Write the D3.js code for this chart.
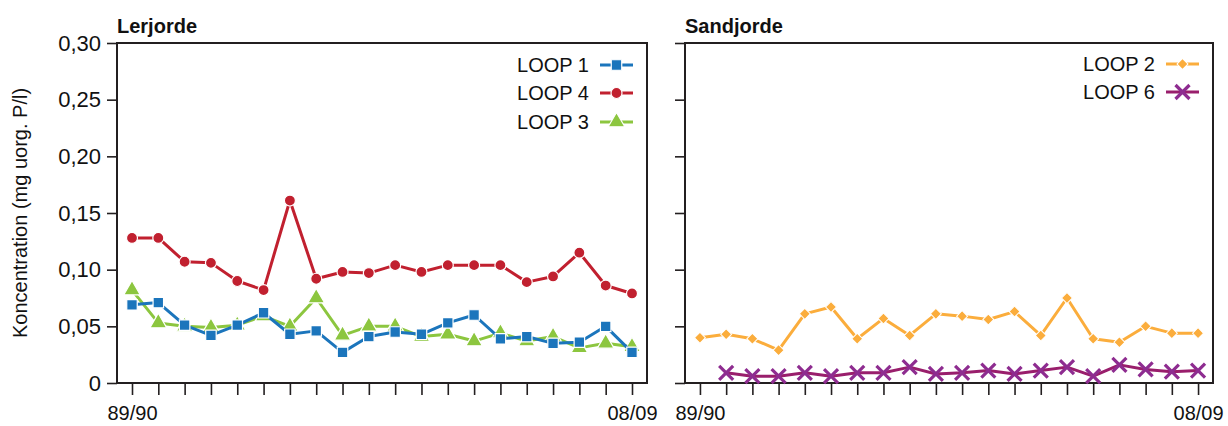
<!DOCTYPE html>
<html>
<head>
<meta charset="utf-8">
<script src="https://cdn.jsdelivr.net/npm/d3@7"></script>
<style>
  html, body { margin: 0; padding: 0; background: #fff; }
  svg { display: block; font-family: "Liberation Sans", Arial, Helvetica, sans-serif; }
</style>
</head>
<body>
<svg id="chart" width="1228" height="426"></svg>
<script>
// Seasons on the x axis (only the first and last are labelled)
const seasons = ["89/90","90/91","91/92","92/93","93/94","94/95","95/96","96/97","97/98","98/99",
                 "99/00","00/01","01/02","02/03","03/04","04/05","05/06","06/07","07/08","08/09"];
const xTickLabels = ["89/90", "08/09"];
const yTicks = [0, 0.05, 0.10, 0.15, 0.20, 0.25, 0.30];

// Lerjorde (clay soil) series
const loop1 = [0.069,0.071,0.051,0.042,0.051,0.062,0.043,0.046,0.027,0.041,0.045,0.043,0.053,0.060,0.039,0.041,0.035,0.036,0.050,0.027];
const loop4 = [0.128,0.128,0.107,0.106,0.090,0.082,0.161,0.092,0.098,0.097,0.104,0.098,0.104,0.104,0.104,0.089,0.094,0.115,0.086,0.079];
const loop3 = [0.082,0.053,0.050,0.049,0.051,0.059,0.050,0.075,0.042,0.050,0.050,0.041,0.043,0.037,0.044,0.037,0.041,0.031,0.035,0.032];

// Sandjorde (sandy soil) series
const loop2 = [0.040,0.043,0.039,0.029,0.061,0.067,0.039,0.057,0.042,0.061,0.059,0.056,0.063,0.042,0.075,0.039,0.036,0.050,0.044,0.044];
const loop6 = [null,0.009,0.006,0.006,0.009,0.006,0.009,0.009,0.014,0.008,0.009,0.011,0.008,0.011,0.014,0.006,0.016,0.012,0.010,0.011];

const yTitle = "Koncentration (mg uorg. P/l)";

const panels = [
  { title: "Lerjorde", left: 117, right: 647, showLabels: true,
    series: [
      { name: "LOOP 3", values: loop3, color: "#8cc63f", line: "#8cc63f", symbol: "triangle" },
      { name: "LOOP 1", values: loop1, color: "#1b75bc", line: "#1b75bc", symbol: "square" },
      { name: "LOOP 4", values: loop4, color: "#c1202f", line: "#c1202f", symbol: "circle" }
    ],
    legend: ["LOOP 1", "LOOP 4", "LOOP 3"] },
  { title: "Sandjorde", left: 685, right: 1213, showLabels: false,
    series: [
      { name: "LOOP 2", values: loop2, color: "#fbad3c", line: "#fbad3c", symbol: "diamond" },
      { name: "LOOP 6", values: loop6, color: "#8e2c90", line: "#991e6c", symbol: "x" }
    ],
    legend: ["LOOP 2", "LOOP 6"] }
];

const plotTop = 43, plotBottom = 383;
const svg = d3.select("#chart");
const fmt = d => d === 0 ? "0" : d3.format(".2f")(d).replace(".", ",");

const y = d3.scaleLinear().domain([0, 0.30]).range([plotBottom, plotTop]);

function drawMarker(g, type, color) {
  if (type === "x") {
    const s = 7;
    g.append("path")
      .attr("d", `M${-s},${-s}L${s},${s}M${-s},${s}L${s},${-s}`)
      .attr("stroke", color).attr("stroke-width", 3.2).attr("fill", "none")
      .attr("stroke-linecap", "butt");
    return;
  }
  if (type === "diamond") {
    g.append("path")
      .attr("d", d3.symbol(d3.symbolSquare, 60)())
      .attr("transform", "rotate(45)")
      .attr("fill", color).attr("stroke", "#fff").attr("stroke-width", 1);
    return;
  }
  const sym = { square: d3.symbolSquare, circle: d3.symbolCircle, triangle: d3.symbolTriangle }[type];
  const size = { square: 110, circle: 95, triangle: 120 }[type];
  g.append("path")
    .attr("d", d3.symbol(sym, size)())
    .attr("fill", color).attr("stroke", "#fff").attr("stroke-width", 1.2);
}

panels.forEach(p => {
  const x = d3.scalePoint().domain(seasons).range([p.left, p.right]).padding(0.57);
  const g = svg.append("g");

  // Frame
  g.append("rect")
    .attr("x", p.left).attr("y", plotTop)
    .attr("width", p.right - p.left).attr("height", plotBottom - plotTop)
    .attr("fill", "none").attr("stroke", "#231f20").attr("stroke-width", 2);

  // Y axis
  const yAxis = d3.axisLeft(y).tickValues(yTicks).tickSize(10).tickPadding(6)
    .tickFormat(p.showLabels ? fmt : () => "");
  const ya = g.append("g").attr("transform", `translate(${p.left},0)`).call(yAxis);
  ya.select(".domain").remove();
  ya.selectAll("line").attr("stroke", "#231f20").attr("stroke-width", 1.6);
  ya.selectAll("text").attr("font-size", 22).attr("fill", "#111");

  // X axis
  const xAxis = d3.axisBottom(x).tickSize(12).tickPadding(11)
    .tickFormat(d => xTickLabels.includes(d) ? d : "");
  const xa = g.append("g").attr("transform", `translate(0,${plotBottom})`).call(xAxis);
  xa.select(".domain").remove();
  xa.selectAll("line").attr("stroke", "#231f20").attr("stroke-width", 1.6);
  xa.selectAll("text").attr("font-size", 20).attr("fill", "#111");

  // Panel title
  g.append("text").attr("x", p.left).attr("y", 33)
    .attr("font-size", 20).attr("font-weight", "bold").attr("fill", "#111")
    .text(p.title);

  // Series
  p.series.forEach(s => {
    const pts = s.values.map((v, i) => ({ k: seasons[i], v })).filter(d => d.v != null);
    g.append("path").datum(pts)
      .attr("d", d3.line().x(d => x(d.k)).y(d => y(d.v)))
      .attr("fill", "none").attr("stroke", s.line).attr("stroke-width", 3)
      .attr("stroke-linejoin", "round");
    pts.forEach(d => {
      const m = g.append("g").attr("transform", `translate(${x(d.k)},${y(d.v)})`);
      drawMarker(m, s.symbol, s.color);
    });
  });

  // Legend
  const lg = g.append("g");
  p.legend.forEach((name, i) => {
    const s = p.series.find(t => t.name === name);
    const ly = (p.showLabels ? [65, 93, 122] : [64, 92])[i];
    const lx = p.right - 14;
    lg.append("text").attr("x", lx - 44).attr("y", ly).attr("dy", "0.35em")
      .attr("text-anchor", "end").attr("font-size", 20).attr("fill", "#111")
      .text(name);
    lg.append("line").attr("x1", lx - 33).attr("x2", lx).attr("y1", ly).attr("y2", ly)
      .attr("stroke", s.line).attr("stroke-width", 3);
    const m = lg.append("g").attr("transform", `translate(${lx - 16.5},${ly})`);
    drawMarker(m, s.symbol, s.color);
  });
});

// Shared y-axis title
svg.append("text")
  .attr("transform", `translate(27,${(plotTop + plotBottom) / 2}) rotate(-90)`)
  .attr("text-anchor", "middle").attr("font-size", 20).attr("fill", "#111")
  .text(yTitle);
</script>
</body>
</html>
